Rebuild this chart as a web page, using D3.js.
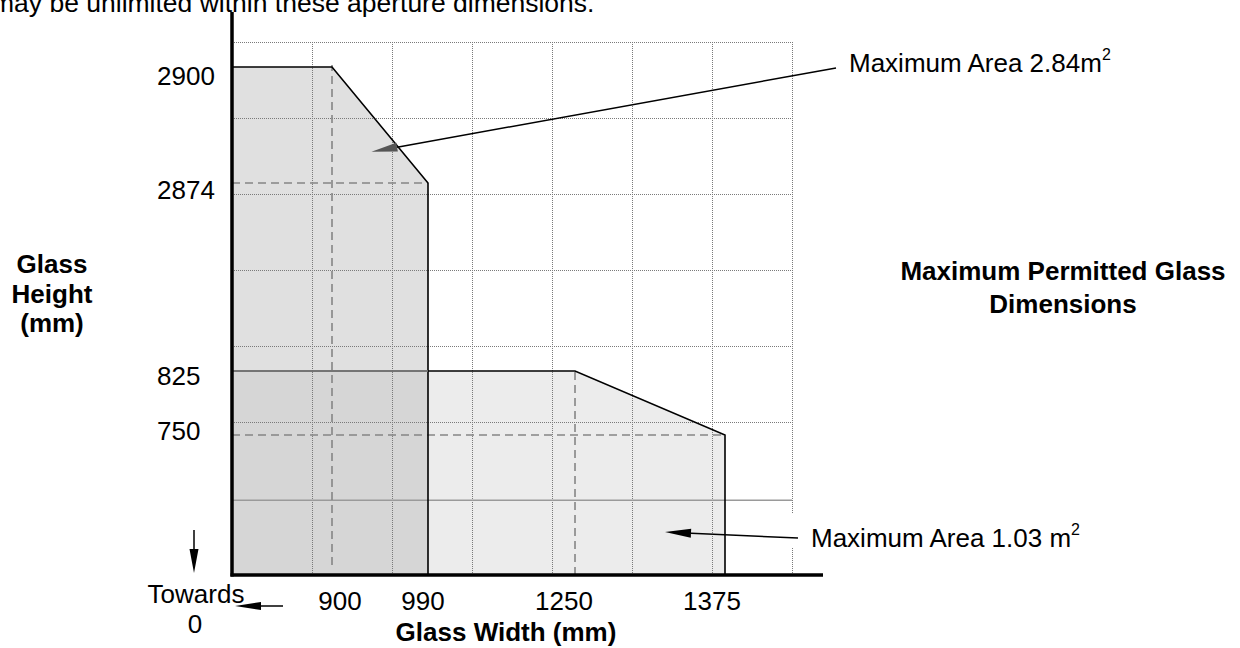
<!DOCTYPE html>
<html>
<head>
<meta charset="utf-8">
<script src="https://cdn.jsdelivr.net/npm/d3@7"></script>
<style>
  html, body { margin: 0; padding: 0; background: #fff; }
  svg { display: block; }
  text { font-family: "Liberation Sans", Arial, sans-serif; fill: #000; }
</style>
</head>
<body>
<svg id="chart" width="1240" height="648"></svg>
<script>
// ---------------- data ----------------
const widthTicks = [900, 990, 1250, 1375];          // Glass width labels (mm)
const heightTicks = [2900, 2874, 825, 750];         // Glass height labels (mm)
// Tall (narrow) pane envelope: [width, height]
const tallPaneW = [0, 0, 900, 990, 990];
const tallPaneH = [0, 2900, 2900, 2874, 0];
// Wide (low) pane envelope: [width, height]
const widePaneW = [0, 0, 1250, 1375, 1375];
const widePaneH = [0, 825, 825, 750, 0];
// Dashed guide lines: from (w1,h1) to (w2,h2)
const guideW1 = [900, 0, 0, 1250];
const guideH1 = [0, 2874, 750, 0];
const guideW2 = [900, 990, 1375, 1250];
const guideH2 = [2900, 2874, 750, 825];
// Area annotations
const areaValues = ["2.84", "1.03 "];
const areaTargetW = [937, 1325];
const areaTargetH = [2881, 230];
const gridCount = 7;
const topNote = "may be unlimited within these aperture dimensions.";

// ---------------- layout ----------------
const svg = d3.select("#chart");
const X0 = 232, Y0 = 575;
const x = d3.scaleLinear().domain([0, 900, 990, 1250, 1375]).range([X0, 332, 428, 575, 725]);
const y = d3.scaleLinear().domain([0, 750, 825, 2874, 2900]).range([Y0, 435, 371, 183, 67]);
const gx = d3.scaleLinear().domain([0, gridCount]).range([X0, 792]);
const gy = d3.scaleLinear().domain([0, gridCount]).range([Y0, 42]);

const line = d3.line().x(d => x(d[0])).y(d => y(d[1]));
const zip = (a, b) => a.map((v, i) => [v, b[i]]);
const tall = zip(tallPaneW, tallPaneH);
const wide = zip(widePaneW, widePaneH);

// fills
svg.append("path").attr("d", line(wide) + "Z").attr("fill", "#ececec");
svg.append("path").attr("d", line(tall) + "Z").attr("fill", "#e0e0e0");
// overlap of both panes
const ovW = Math.min(d3.max(tallPaneW), d3.max(widePaneW));
const ovH = Math.min(d3.max(tallPaneH), d3.max(widePaneH));
const overlap = [[0, 0], [0, ovH], [ovW, ovH], [ovW, 0]];
svg.append("path").attr("d", line(overlap) + "Z").attr("fill", "#d6d6d6");

// grid (dotted)
const grid = svg.append("g").attr("stroke", "#7a7a7a").attr("stroke-width", 1)
  .attr("stroke-dasharray", "1,1").attr("shape-rendering", "crispEdges");
d3.range(1, gridCount + 1).forEach(i => {
  grid.append("line").attr("x1", gx(i)).attr("x2", gx(i)).attr("y1", gy(gridCount)).attr("y2", gy(0));
});
d3.range(2, gridCount + 1).forEach(i => {
  grid.append("line").attr("x1", gx(0)).attr("x2", gx(gridCount)).attr("y1", gy(i)).attr("y2", gy(i));
});
// solid grey reference line (first grid row)
svg.append("line").attr("x1", gx(0)).attr("x2", gx(gridCount)).attr("y1", gy(1) + 1.5).attr("y2", gy(1) + 1.5)
  .attr("stroke", "#9a9a9a").attr("stroke-width", 1.5);

// dashed guides
svg.append("g").selectAll("line").data(guideW1).join("line")
  .attr("x1", (d, i) => x(guideW1[i])).attr("y1", (d, i) => y(guideH1[i]) - (guideW1[i] === 900 ? 10 : 0))
  .attr("x2", (d, i) => x(guideW2[i])).attr("y2", (d, i) => y(guideH2[i]) + (guideW1[i] === 900 ? -2 : 0))
  .attr("stroke", "#858585").attr("stroke-width", 1.6).attr("stroke-dasharray", "8,5");

// outlines
svg.append("path").attr("d", line(wide.slice(1))).attr("fill", "none").attr("stroke", "#000").attr("stroke-width", 1.6);
svg.append("path").attr("d", line(tall.slice(1))).attr("fill", "none").attr("stroke", "#000").attr("stroke-width", 1.6);
// wide pane top edge inside tall pane (grey)
svg.append("line").attr("x1", x(0)).attr("x2", x(ovW)).attr("y1", y(ovH)).attr("y2", y(ovH))
  .attr("stroke", "#8a8a8a").attr("stroke-width", 1.6);

// axes
svg.append("line").attr("x1", X0).attr("x2", X0).attr("y1", 12).attr("y2", Y0 + 1.5)
  .attr("stroke", "#000").attr("stroke-width", 3.5);
svg.append("line").attr("x1", X0 - 1.5).attr("x2", 823).attr("y1", Y0).attr("y2", Y0)
  .attr("stroke", "#000").attr("stroke-width", 3.5);

// tick labels
const FS = 26;
const xNudge = {900: 8, 990: -5, 1250: -11, 1375: -13};
svg.append("g").selectAll("text").data(widthTicks).join("text")
  .attr("x", d => x(d) + xNudge[d]).attr("y", 610).attr("text-anchor", "middle")
  .attr("font-size", FS).text(d => d);
const yNudge = {2900: 18, 2874: 16, 825: 14, 750: 5};
svg.append("g").selectAll("text").data(heightTicks).join("text")
  .attr("x", 157).attr("y", d => y(d) + yNudge[d]).attr("text-anchor", "start")
  .attr("font-size", FS).text(d => d);

// axis titles
const yt = svg.append("text").attr("font-size", FS).attr("font-weight", "bold").attr("text-anchor", "middle");
["Glass", "Height", "(mm)"].forEach((t, i) => yt.append("tspan").attr("x", 52).attr("y", 273 + i * 29.5).text(t));
svg.append("text").attr("x", 506).attr("y", 641).attr("font-size", FS).attr("font-weight", "bold")
  .attr("text-anchor", "middle").text("Glass Width (mm)");
const tt = svg.append("text").attr("font-size", FS).attr("font-weight", "bold").attr("text-anchor", "middle");
["Maximum Permitted Glass", "Dimensions"].forEach((t, i) => tt.append("tspan").attr("x", 1063).attr("y", 280 + i * 33).text(t));

// top note (clipped by the top edge, as in the source)
svg.append("text").attr("x", -8).attr("y", 12).attr("font-size", 26.5).text(topNote);

// towards 0
svg.append("text").attr("x", 196).attr("y", 603).attr("font-size", FS).attr("text-anchor", "middle").text("Towards");
svg.append("text").attr("x", 195).attr("y", 633).attr("font-size", FS).attr("text-anchor", "middle").text("0");

function arrow(x1, y1, x2, y2, color, len, hw) {
  const dx = x2 - x1, dy = y2 - y1, L = Math.hypot(dx, dy);
  const ux = dx / L, uy = dy / L;
  const bx = x2 - ux * len, by = y2 - uy * len;
  svg.append("line").attr("x1", x1).attr("y1", y1).attr("x2", bx).attr("y2", by)
    .attr("stroke", "#000").attr("stroke-width", 1.5);
  svg.append("path")
    .attr("d", `M${x2},${y2}L${bx - uy * hw},${by + ux * hw}L${bx + uy * hw},${by - ux * hw}Z`)
    .attr("fill", color);
}
arrow(194, 530, 194, 573, "#000", 24, 4.5);
arrow(283, 606, 235, 606, "#000", 26, 4);

// area annotations
const labelX = [849, 811], labelY = [72, 547];
const leadX = [836, 798], leadY = [68, 538];
// white backing behind the lower label (breaks the right grid line)
svg.append("rect").attr("x", 786).attr("y", 513).attr("width", 340).attr("height", 34).attr("fill", "#fff");
areaValues.forEach((v, i) => {
  const t = svg.append("text").attr("x", labelX[i]).attr("y", labelY[i]).attr("font-size", FS);
  t.append("tspan").text("Maximum Area " + v + "m");
  t.append("tspan").attr("font-size", 16).attr("dy", -12).text("2");
  arrow(leadX[i], leadY[i], x(areaTargetW[i]), y(areaTargetH[i]), i === 0 ? "#555" : "#000", 26, 4.5);
});
</script>
</body>
</html>
